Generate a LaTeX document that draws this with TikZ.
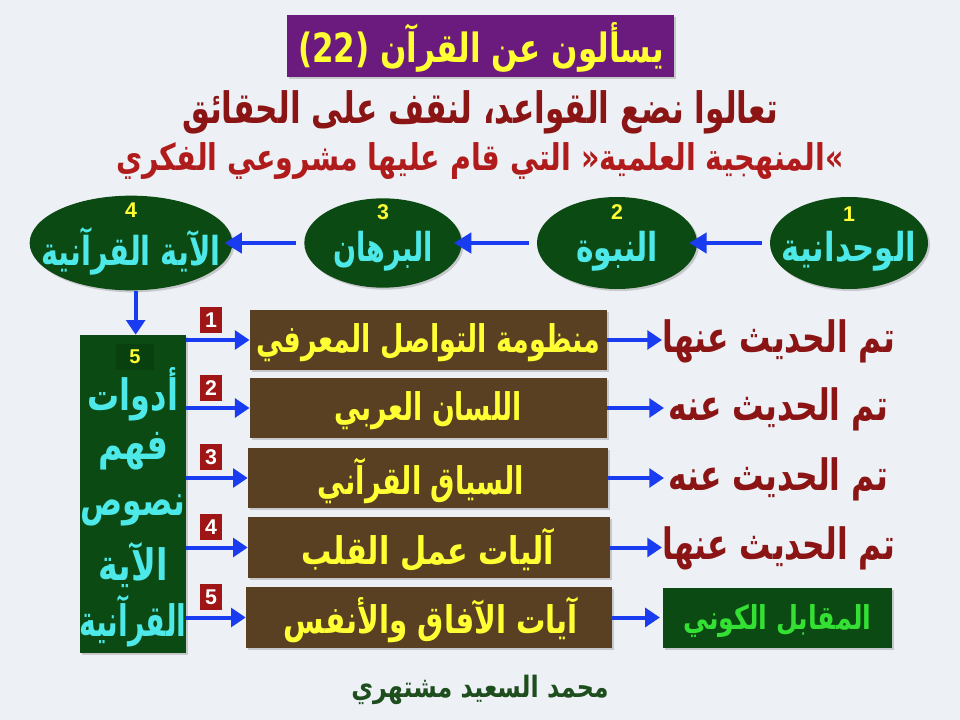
\documentclass[tikz,border=0pt]{standalone}
\usepackage{fontspec}
\usepackage{graphicx}
\usetikzlibrary{shapes.geometric,arrows.meta,shadows}
\TeXXeTstate=1
\newfontfamily\arabicfont[Script=Arabic,BoldFont={DejaVu Sans Bold}]{DejaVu Sans}
\newfontfamily\latfont{Liberation Sans}
\newcommand{\ARS}[3]{\scalebox{#1}[#2]{\arabicfont\bfseries #3}}
\definecolor{bgc}{HTML}{EDF0F4}
\definecolor{purp}{HTML}{6B1A7E}
\definecolor{yel}{HTML}{FFFF33}
\definecolor{dred}{HTML}{8B1515}
\definecolor{mred}{HTML}{B01C1C}
\definecolor{ogreen}{HTML}{0C4A14}
\definecolor{cyn}{HTML}{4DE8E8}
\definecolor{blu}{HTML}{1A3CF0}
\definecolor{brn}{HTML}{5A4022}
\definecolor{sqred}{HTML}{A01515}
\definecolor{bgreen}{HTML}{33E033}
\definecolor{ftgreen}{HTML}{1E4D1E}
\definecolor{ingreen}{HTML}{08400F}
\tikzset{
  shd/.style={drop shadow={opacity=0.35,shadow xshift=1.5pt,shadow yshift=-1.5pt}},
  oval/.style={ellipse,fill=ogreen,inner sep=0pt,shd},
  ovaltxt/.style={text=cyn,font=\fontsize{23}{26}\selectfont,inner sep=0pt},
  ovalnum/.style={text=yel,font=\latfont\bfseries\fontsize{16}{18}\selectfont,inner sep=0pt},
  brbox/.style={rectangle,fill=brn,inner sep=0pt,shd},
  brtxt/.style={text=yel,font=\fontsize{22}{24}\selectfont,inner sep=0pt},
  redsq/.style={rectangle,fill=sqred,minimum width=16.5pt,minimum height=19.5pt,inner sep=0pt,text=white,font=\latfont\bfseries\fontsize{16}{17}\selectfont},
  redtxt/.style={text=dred,font=\fontsize{24}{26}\selectfont,inner sep=0pt},
  toolstxt/.style={text=cyn,font=\fontsize{25}{27}\selectfont,inner sep=0pt},
  barrow/.style={draw=blu,line width=3.5pt,-{Triangle[length=13pt,width=15pt]}},
  sarrow/.style={draw=blu,line width=3pt,-{Triangle[length=11pt,width=14pt]}},
}
\begin{document}
\begin{tikzpicture}[x=0.75pt,y=-0.75pt]
\fill[bgc] (0,0) rectangle (960,720);
\useasboundingbox (0,0) rectangle (960,720);
% title
\node[rectangle,fill=purp,minimum width=290pt,minimum height=46.5pt,inner sep=0pt,shd] (title) at (480.5,46) {};
\node[text=yel,font=\fontsize{27}{30}\selectfont,inner sep=0pt] (titletxt) at (481,47) {\ARS{0.86}{1.12}{\beginR يسألون عن القرآن (22)\endR}};
\node[text=dred,font=\fontsize{26}{28}\selectfont,inner sep=0pt] (line2) at (480,112) {\ARS{0.9}{1.25}{\beginR تعالوا نضع القواعد، لنقف على الحقائق\endR}};
\node[text=mred,font=\fontsize{23}{26}\selectfont,inner sep=0pt] (line3) at (480,161) {\ARS{0.93}{1.2}{\beginR »المنهجية العلمية« التي قام عليها مشروعي الفكري\endR}};
% ovals
\node[oval,minimum width=118.5pt,minimum height=69pt] (o1) at (849,243) {};
\node[oval,minimum width=120pt,minimum height=69pt] (o2) at (617,243) {};
\node[oval,minimum width=118pt,minimum height=67pt] (o3) at (383,243) {};
\node[oval,minimum width=152pt,minimum height=71pt] (o4) at (131,243) {};
\node[ovalnum] (n1) at (849,214) {1};
\node[ovalnum] (n2) at (617,212) {2};
\node[ovalnum] (n3) at (383,212) {3};
\node[ovalnum] (n4) at (131,210) {4};
\node[ovaltxt] (t1) at (849,251) {\ARS{1.0}{1.3}{\beginR الوحدانية\endR}};
\node[ovaltxt] (t2) at (617,251) {\ARS{0.97}{1.3}{\beginR النبوة\endR}};
\node[ovaltxt] (t3) at (383,251) {\ARS{0.88}{1.3}{\beginR البرهان\endR}};
\node[ovaltxt] (t4) at (131,251) {\ARS{0.94}{1.3}{\beginR الآية القرآنية\endR}};
\draw[barrow] ([xshift=-6pt]o1.west) -- ([xshift=-6pt]o2.east);
\draw[barrow] ([xshift=-6pt]o2.west) -- ([xshift=-6pt]o3.east);
\draw[barrow] ([xshift=-6pt]o3.west) -- ([xshift=-6pt]o4.east);
% tools box
\node[rectangle,fill=ogreen,minimum width=79.5pt,minimum height=238.5pt,inner sep=0pt,shd] (b5) at (133,494) {};
\node[rectangle,fill=ingreen,minimum width=28pt,minimum height=20pt,inner sep=0pt,text=yel,font=\latfont\bfseries\fontsize{15}{16}\selectfont] (b5n) at (135,357) {5};
\node[toolstxt] (w1) at (133,394) {\ARS{0.96}{1.3}{\beginR أدوات\endR}};
\node[toolstxt] (w2) at (133,451) {\ARS{1.0}{1.3}{\beginR فهم\endR}};
\node[toolstxt] (w3) at (133,510) {\ARS{0.94}{1.3}{\beginR نصوص\endR}};
\node[toolstxt] (w4) at (133,565) {\ARS{1.0}{1.3}{\beginR الآية\endR}};
\node[toolstxt] (w5) at (133,621) {\ARS{0.85}{1.3}{\beginR القرآنية\endR}};
\draw[sarrow] ([xshift=3.5pt]o4.south) -- ([xshift=3.5pt]o4.south |- b5.north);
% brown boxes
\node[brbox,minimum width=268pt,minimum height=45pt] (bx1) at (428.5,340) {};
\node[brbox,minimum width=268pt,minimum height=45pt] (bx2) at (428.5,408) {};
\node[brbox,minimum width=270pt,minimum height=45.5pt] (bx3) at (428,478) {};
\node[brbox,minimum width=271.5pt,minimum height=45.5pt] (bx4) at (429,547.5) {};
\node[brbox,minimum width=274.5pt,minimum height=45.5pt] (bx5) at (429,617.5) {};
\node[brtxt] (bt1) at (428.5,343) {\ARS{0.92}{1.3}{\beginR منظومة التواصل المعرفي\endR}};
\node[brtxt] (bt2) at (428.5,411) {\ARS{0.91}{1.3}{\beginR اللسان العربي\endR}};
\node[brtxt] (bt3) at (421,481) {\ARS{0.93}{1.3}{\beginR السياق القرآني\endR}};
\node[brtxt] (bt4) at (428,550) {\ARS{1.03}{1.3}{\beginR آليات عمل القلب\endR}};
\node[brtxt] (bt5) at (431,620) {\ARS{1.0}{1.3}{\beginR آيات الآفاق والأنفس\endR}};
% red squares
\node[redsq] (s1) at (211,320) {1};
\node[redsq] (s2) at (211,388) {2};
\node[redsq] (s3) at (211,457) {3};
\node[redsq] (s4) at (211,527) {4};
\node[redsq] (s5) at (211,597) {5};
% arrows from tools box
\draw[sarrow] (b5.east |- bx1.west) -- (bx1.west);
\draw[sarrow] (b5.east |- bx2.west) -- (bx2.west);
\draw[sarrow] (b5.east |- bx3.west) -- (bx3.west);
\draw[sarrow] (b5.east |- bx4.west) -- (bx4.west);
\draw[sarrow] (b5.east |- bx5.west) -- (bx5.west);
% right texts
\node[redtxt,anchor=west] (r1) at (662,341) {\ARS{0.98}{1.35}{\beginR تم الحديث عنها\endR}};
\node[redtxt,anchor=west] (r2) at (668,409) {\ARS{0.98}{1.35}{\beginR تم الحديث عنه\endR}};
\node[redtxt,anchor=west] (r3) at (668,479) {\ARS{0.98}{1.35}{\beginR تم الحديث عنه\endR}};
\node[redtxt,anchor=west] (r4) at (662,548) {\ARS{0.98}{1.35}{\beginR تم الحديث عنها\endR}};
\node[rectangle,fill=ogreen,minimum width=172pt,minimum height=45pt,inner sep=0pt,shd] (g5) at (777.5,618) {};
\node[text=bgreen,font=\fontsize{19}{21}\selectfont,inner sep=0pt] (g5t) at (777.5,621) {\ARS{1.0}{1.3}{\beginR المقابل الكوني\endR}};
\draw[sarrow] (bx1.east) -- (bx1.east -| r1.west);
\draw[sarrow] (bx2.east) -- ([xshift=-3pt]bx2.east -| r2.west);
\draw[sarrow] (bx3.east) -- ([xshift=-3pt]bx3.east -| r3.west);
\draw[sarrow] (bx4.east) -- (bx4.east -| r4.west);
\draw[sarrow] (bx5.east) -- ([xshift=-2pt]bx5.east -| g5.west);
% footer
\node[text=ftgreen,font=\fontsize{17}{19}\selectfont,inner sep=0pt] (foot) at (480,690) {\ARS{1.05}{1.3}{\beginR محمد السعيد مشتهري\endR}};
\end{tikzpicture}
\end{document}
